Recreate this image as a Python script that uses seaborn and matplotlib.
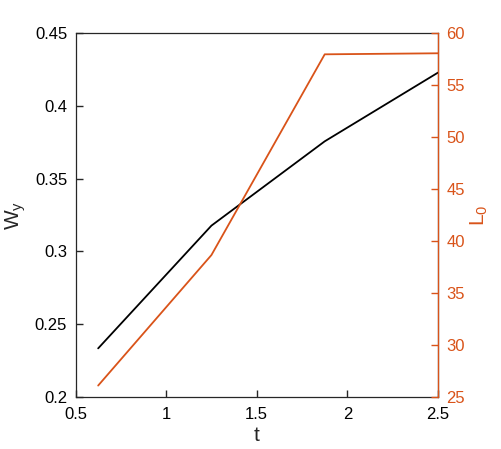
import matplotlib
matplotlib.use("Agg")
import matplotlib.pyplot as plt
import seaborn as sb
import pandas as pd

# values
t_vals = [0.625, 1.25, 1.875, 2.5]
wy_vals = [0.2334, 0.3177, 0.3756, 0.4228]
l0_vals = [26.1, 38.65, 57.95, 58.05]

x_ticks = [0.5, 1, 1.5, 2, 2.5]
x_labels = ["0.5", "1", "1.5", "2", "2.5"]
wy_ticks = [0.2, 0.25, 0.3, 0.35, 0.4, 0.45]
wy_labels = ["0.2", "0.25", "0.3", "0.35", "0.4", "0.45"]
l0_ticks = [25, 30, 35, 40, 45, 50, 55, 60]

orange = "#D95319"

sb.set_style("white")
plt.rcParams["font.family"] = ["Liberation Sans", "DejaVu Sans"]
plt.rcParams["mathtext.default"] = "regular"

t = pd.DataFrame({"t": t_vals, "Wy": wy_vals, "L0": l0_vals})

fig = plt.figure(figsize=(5.01, 4.49), dpi=100)
ax = fig.add_axes([75.5 / 501, 1 - 397 / 449, (438 - 75.5) / 501, (397 - 33) / 449])
sb.lineplot(data=t, x="t", y="Wy", color="black", linewidth=1.3, ax=ax)
ax.set_xlim(0.5, 2.5)
ax.set_ylim(0.2, 0.45)
ax.set_xticks(x_ticks)
ax.set_xticklabels(x_labels)
ax.set_yticks(wy_ticks)
ax.set_yticklabels(wy_labels)
ax.tick_params(direction="in", length=5, width=1, labelsize=12, colors="#262626",
               labelcolor="black", bottom=True, left=True)
ax.tick_params(axis="x", pad=7)
ax.tick_params(axis="y", pad=6)
ax.set_xlabel("t", fontsize=15, labelpad=3)
ax.set_ylabel("W$_y$", fontsize=15, labelpad=5)
for s in ax.spines.values():
    s.set_color("#262626")
    s.set_linewidth(0.9)

ax2 = ax.twinx()
sb.lineplot(data=t, x="t", y="L0", color=orange, linewidth=1.3, ax=ax2)
ax2.set_ylim(25, 60)
ax2.set_yticks(l0_ticks)
ax2.tick_params(direction="in", length=5, width=1, labelsize=12, colors=orange, pad=6,
                right=True)
ax2.set_ylabel("L$_0$", fontsize=15, color=orange, labelpad=3)
ax2.spines["right"].set_color(orange)
ax2.spines["right"].set_linewidth(0.9)
ax2.spines["left"].set_visible(False)
ax2.spines["top"].set_visible(False)
ax2.spines["bottom"].set_visible(False)

fig.savefig("out.png", dpi=100)
